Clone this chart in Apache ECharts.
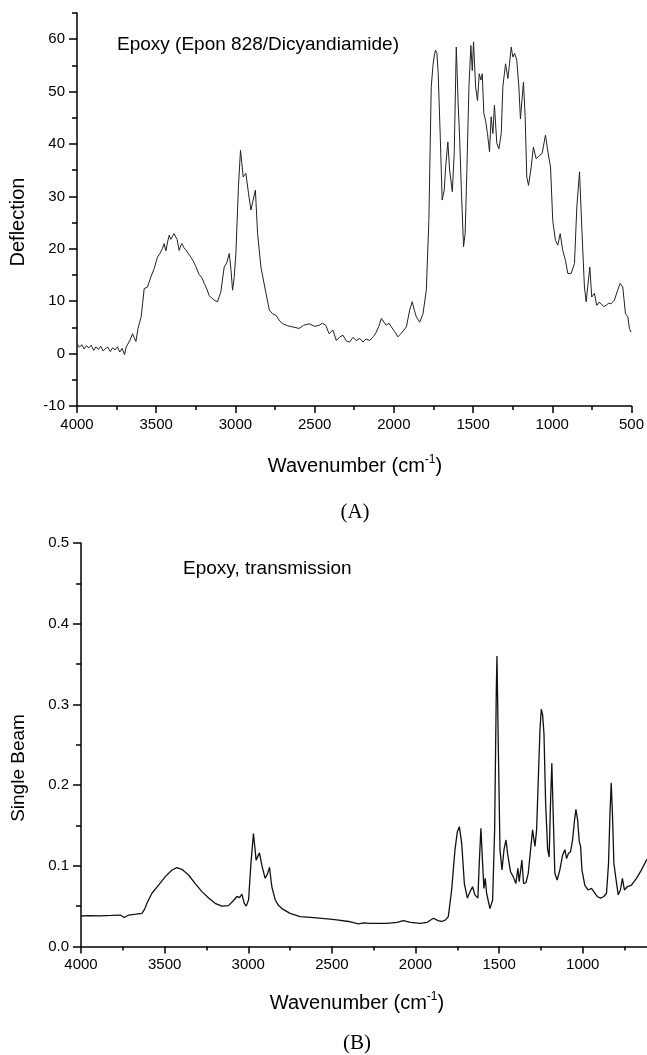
<!DOCTYPE html>
<html>
<head>
<meta charset="utf-8">
<script src="https://cdn.jsdelivr.net/npm/echarts@6/dist/echarts.min.js"></script>
<style>html,body{margin:0;padding:0;background:#fff}#c{width:647px;height:1055px}</style>
</head>
<body>
<div id="c"></div>
<script>
// ---- data (wavenumber cm-1, value) ----
const spectrumA = [[4000,1.9],[3985,1.2],[3970,1.7],[3955,0.9],[3940,1.5],[3925,1.1],[3910,1.6],[3895,0.6],[3880,1.3],[3865,0.8],[3850,1.4],[3835,0.5],[3820,1.0],[3805,1.2],[3790,0.4],[3775,1.1],[3760,0.7],[3745,1.3],[3730,0.3],[3715,1.0],[3700,-0.2],[3690,1.2],[3680,1.3],[3665,2.6],[3649,3.8],[3638,3.0],[3628,2.3],[3615,4.8],[3607,5.7],[3595,7.0],[3586,9.5],[3576,12.4],[3565,12.2],[3555,12.7],[3534,14.6],[3513,16.2],[3492,18.4],[3475,19.2],[3460,20.1],[3450,21.0],[3439,19.6],[3428,21.3],[3418,22.6],[3408,21.8],[3397,21.6],[3388,22.9],[3380,23.0],[3368,21.8],[3355,19.7],[3345,20.6],[3338,21.0],[3325,20.2],[3313,19.8],[3295,19.0],[3281,18.4],[3265,17.6],[3250,16.6],[3229,15.1],[3210,14.4],[3197,13.4],[3180,12.3],[3166,11.1],[3150,10.6],[3134,10.2],[3113,9.9],[3092,11.8],[3071,16.5],[3055,17.3],[3039,19.1],[3028,16.0],[3018,12.1],[3008,14.5],[2997,19.1],[2981,31.8],[2968,38.8],[2960,36.5],[2951,33.7],[2934,34.4],[2917,30.5],[2902,27.4],[2891,28.9],[2874,31.2],[2860,22.9],[2839,16.5],[2820,13.5],[2807,11.5],[2786,8.3],[2765,7.6],[2744,7.3],[2720,6.2],[2702,5.7],[2670,5.3],[2640,5.1],[2598,4.8],[2570,5.4],[2535,5.7],[2500,5.2],[2472,5.4],[2450,5.8],[2430,5.4],[2409,3.8],[2385,4.5],[2363,2.5],[2340,3.2],[2321,3.5],[2300,2.4],[2279,2.2],[2258,3.1],[2237,2.5],[2215,2.9],[2195,2.2],[2175,2.8],[2153,2.5],[2130,3.2],[2111,4.1],[2095,5.2],[2079,6.7],[2060,5.9],[2048,5.4],[2030,5.8],[2016,5.1],[1995,4.2],[1974,3.2],[1955,3.8],[1943,4.1],[1921,5.1],[1900,8.3],[1884,9.9],[1870,8.2],[1858,7.0],[1837,6.0],[1816,7.6],[1795,12.1],[1779,25.4],[1764,50.9],[1753,55.0],[1745,56.8],[1737,57.9],[1728,57.3],[1720,53.4],[1707,41.3],[1695,29.3],[1682,31.2],[1673,35.6],[1659,40.4],[1648,35.0],[1631,30.9],[1619,38.2],[1606,58.5],[1594,47.7],[1585,41.3],[1573,30.5],[1560,20.4],[1550,22.9],[1539,35.0],[1526,50.9],[1514,58.8],[1505,54.0],[1497,59.5],[1484,50.9],[1472,48.3],[1461,53.4],[1451,52.2],[1442,53.4],[1432,45.8],[1421,44.5],[1409,42.0],[1396,38.5],[1386,45.2],[1375,42.0],[1365,47.4],[1350,40.1],[1337,39.1],[1322,42.0],[1312,50.9],[1295,55.3],[1280,52.5],[1270,55.3],[1259,58.5],[1249,56.6],[1238,57.3],[1224,56.0],[1211,50.9],[1201,44.8],[1182,51.8],[1171,45.2],[1161,33.7],[1150,32.1],[1133,35.6],[1119,39.4],[1102,37.2],[1081,37.8],[1064,38.2],[1043,41.7],[1026,38.2],[1011,35.6],[997,25.4],[980,21.6],[965,20.7],[950,22.9],[934,19.7],[917,17.8],[902,15.3],[881,15.3],[860,17.2],[845,28.0],[828,34.7],[812,22.9],[797,12.7],[786,9.9],[774,13.4],[763,16.5],[751,10.8],[734,11.5],[719,9.2],[705,9.8],[692,9.5],[676,9.0],[660,9.2],[645,9.6],[629,9.5],[608,10.2],[587,12.1],[572,13.4],[555,12.7],[538,7.6],[523,7.0],[513,4.8],[503,4.1]];

const spectrumB = [[4000,0.0378],[3950,0.0382],[3885,0.038],[3820,0.0385],[3765,0.039],[3741,0.036],[3715,0.039],[3670,0.040],[3636,0.041],[3620,0.046],[3606,0.0535],[3576,0.066],[3536,0.076],[3496,0.0866],[3456,0.0948],[3427,0.0977],[3397,0.0956],[3357,0.0886],[3317,0.078],[3277,0.068],[3237,0.060],[3198,0.0535],[3158,0.050],[3118,0.0506],[3088,0.057],[3068,0.062],[3052,0.0605],[3038,0.065],[3024,0.0535],[3012,0.050],[2998,0.058],[2984,0.103],[2969,0.140],[2960,0.122],[2953,0.107],[2942,0.112],[2933,0.116],[2917,0.099],[2899,0.0845],[2885,0.090],[2873,0.098],[2859,0.074],[2839,0.058],[2820,0.051],[2799,0.047],[2750,0.041],[2690,0.037],[2610,0.0357],[2511,0.034],[2471,0.033],[2400,0.031],[2371,0.0295],[2341,0.028],[2310,0.0292],[2272,0.0287],[2172,0.0287],[2110,0.030],[2073,0.032],[2030,0.030],[1973,0.0287],[1930,0.030],[1893,0.035],[1865,0.032],[1844,0.031],[1820,0.033],[1804,0.037],[1784,0.070],[1764,0.120],[1750,0.142],[1738,0.1485],[1724,0.128],[1708,0.078],[1690,0.060],[1674,0.068],[1659,0.074],[1645,0.064],[1627,0.060],[1619,0.103],[1609,0.1465],[1599,0.103],[1591,0.072],[1583,0.0845],[1575,0.066],[1555,0.047],[1539,0.0576],[1527,0.144],[1517,0.318],[1513,0.360],[1505,0.248],[1495,0.120],[1483,0.095],[1471,0.120],[1459,0.132],[1448,0.113],[1432,0.0927],[1416,0.0866],[1400,0.078],[1388,0.097],[1380,0.0804],[1364,0.107],[1354,0.078],[1340,0.079],[1326,0.0907],[1312,0.120],[1300,0.1445],[1286,0.124],[1276,0.1445],[1264,0.219],[1256,0.268],[1248,0.294],[1240,0.287],[1232,0.264],[1222,0.177],[1210,0.120],[1201,0.111],[1193,0.177],[1185,0.227],[1177,0.165],[1167,0.0907],[1153,0.0824],[1137,0.095],[1121,0.113],[1107,0.120],[1097,0.109],[1085,0.1155],[1073,0.1175],[1061,0.132],[1049,0.157],[1041,0.170],[1031,0.157],[1021,0.130],[1013,0.124],[1005,0.095],[988,0.076],[968,0.070],[948,0.072],[934,0.068],[914,0.062],[894,0.060],[874,0.062],[858,0.066],[846,0.103],[838,0.161],[830,0.203],[822,0.161],[814,0.103],[802,0.0845],[788,0.064],[775,0.070],[763,0.0845],[751,0.070],[735,0.074],[709,0.076],[679,0.0845],[649,0.095],[619,0.107],[616,0.108]];

// ---- tick labels ----
const ticksAy = [-10,0,10,20,30,40,50,60];
const ticksBxMajor = [1000,1500,2000,2500,3000,3500,4000];
const ticksBxMinor = [750,1250,1750,2250,2750,3250,3750];

const titleA = 'Epoxy (Epon 828/Dicyandiamide)';
const titleB = 'Epoxy, transmission';
const yNameA = 'Deflection';
const yNameB = 'Single Beam';
const xName = 'Wavenumber (cm{sup|-1})';

const FONT = '"Liberation Sans", Arial, sans-serif';
const axisLineStyle = {color:'#000', width:1.5};
const lbl = {color:'#000', fontSize:15, fontFamily:FONT};
const plain = v => String(v);

const chart = echarts.init(document.getElementById('c'), null, {renderer:'canvas'});
chart.setOption({
  animation:false,
  backgroundColor:'#fff',
  grid:[
    {left:77, top:13, width:555, height:393},
    {left:81, top:543, right:0, height:403.5}
  ],
  xAxis:[
    {gridIndex:0, type:'value', min:500, max:4000, interval:500, inverse:true, position:'bottom',
     axisLine:{show:true, onZero:false, lineStyle:axisLineStyle},
     axisTick:{show:true, length:7, lineStyle:axisLineStyle},
     minorTick:{show:true, splitNumber:2, length:4, lineStyle:axisLineStyle},
     splitLine:{show:false}, minorSplitLine:{show:false},
     axisLabel:Object.assign({margin:11, showMinLabel:true, showMaxLabel:true, formatter:plain}, lbl)},
    {gridIndex:1, type:'value', min:616, max:4000, inverse:true, position:'bottom',
     axisLine:{show:true, onZero:false, lineStyle:axisLineStyle},
     axisTick:{show:true, length:7, lineStyle:axisLineStyle, customValues:ticksBxMajor},
     splitLine:{show:false},
     axisLabel:Object.assign({margin:11, customValues:ticksBxMajor, formatter:plain}, lbl)},
    {gridIndex:1, type:'value', min:616, max:4000, inverse:true, position:'bottom',
     axisLine:{show:false, onZero:false},
     axisTick:{show:true, length:4, lineStyle:axisLineStyle, customValues:ticksBxMinor},
     splitLine:{show:false},
     axisLabel:{show:false}}
  ],
  yAxis:[
    {gridIndex:0, type:'value', min:-10, max:65, interval:5, position:'left',
     axisLine:{show:true, onZero:false, lineStyle:axisLineStyle},
     axisTick:{show:true, length:5, lineStyle:axisLineStyle},
     splitLine:{show:false}, axisLabel:{show:false}},
    {gridIndex:0, type:'value', min:-10, max:65, position:'left',
     axisLine:{show:false, onZero:false},
     axisTick:{show:true, length:8, lineStyle:axisLineStyle, customValues:ticksAy},
     splitLine:{show:false},
     axisLabel:Object.assign({margin:12, customValues:ticksAy, formatter:plain}, lbl)},
    {gridIndex:1, type:'value', min:0, max:0.5, interval:0.1, position:'left',
     axisLine:{show:true, onZero:false, lineStyle:axisLineStyle},
     axisTick:{show:true, length:8, lineStyle:axisLineStyle},
     minorTick:{show:true, splitNumber:2, length:5, lineStyle:axisLineStyle},
     splitLine:{show:false}, minorSplitLine:{show:false},
     axisLabel:Object.assign({margin:12, formatter:v=>v.toFixed(1)}, lbl)}
  ],
  series:[
    {type:'line', xAxisIndex:0, yAxisIndex:0, data:spectrumA, showSymbol:false, symbol:'none',
     lineStyle:{color:'#222', width:1}, clip:true},
    {type:'line', xAxisIndex:1, yAxisIndex:2, data:spectrumB, showSymbol:false, symbol:'none',
     lineStyle:{color:'#111', width:1.3}, clip:true}
  ],
  graphic:[
    {type:'text', left:117, top:35, style:{text:titleA, fontSize:19, fontFamily:FONT, fill:'#000'}},
    {type:'text', left:183, top:559, style:{text:titleB, fontSize:19, fontFamily:FONT, fill:'#000'}},
    {type:'text', x:18, y:222, rotation:Math.PI/2,
     style:{text:yNameA, fontSize:20, fontFamily:FONT, fill:'#000', align:'center', verticalAlign:'middle'}},
    {type:'text', x:19, y:768, rotation:Math.PI/2,
     style:{text:yNameB, fontSize:19, fontFamily:FONT, fill:'#000', align:'center', verticalAlign:'middle'}},
    {type:'text', x:355, y:466,
     style:{text:xName, fontSize:20, fontFamily:FONT, fill:'#000', align:'center', verticalAlign:'middle',
       rich:{sup:{fontSize:12, fontFamily:FONT, fill:'#000', verticalAlign:'top', lineHeight:24}}}},
    {type:'text', x:357, y:1003,
     style:{text:xName, fontSize:20, fontFamily:FONT, fill:'#000', align:'center', verticalAlign:'middle',
       rich:{sup:{fontSize:12, fontFamily:FONT, fill:'#000', verticalAlign:'top', lineHeight:24}}}},
    {type:'text', x:355, y:512,
     style:{text:'(A)', fontSize:21, fontFamily:'"Liberation Serif", "Times New Roman", serif', fill:'#000', align:'center', verticalAlign:'middle'}},
    {type:'text', x:357, y:1043,
     style:{text:'(B)', fontSize:21, fontFamily:'"Liberation Serif", "Times New Roman", serif', fill:'#000', align:'center', verticalAlign:'middle'}}
  ]
});
</script>
</body>
</html>
